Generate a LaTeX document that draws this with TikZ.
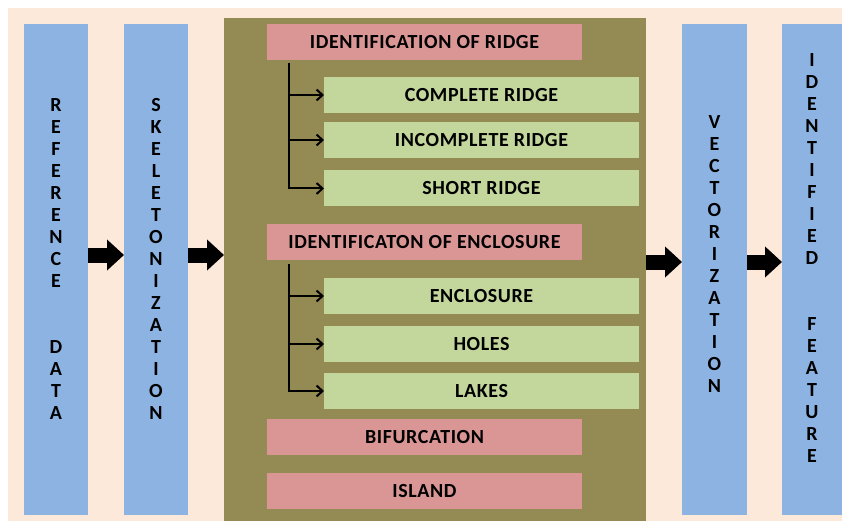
\documentclass[tikz,border=0pt]{standalone}
\usepackage{fontspec}
\setmainfont{Carlito}
\newfontfamily\boxfont[LetterSpace=3]{Carlito}
\usetikzlibrary{arrows.meta}
\definecolor{peach}{HTML}{FDE9D9}
\definecolor{stageblue}{HTML}{8DB3E2}
\definecolor{stageolive}{HTML}{948A54}
\definecolor{stagepink}{HTML}{D99694}
\definecolor{subgreen}{HTML}{C3D69B}

\begin{document}
\begin{tikzpicture}[x=1pt,y=-1pt,
	column/.style={fill=stageblue, minimum width=64pt, minimum height=491pt, inner sep=0pt, outer sep=0pt},
	vtext/.style={align=center, inner sep=0pt, font=\bfseries\fontsize{20}{22}\selectfont},
	stagebox/.style={fill=stagepink, minimum width=315pt, minimum height=36pt, inner sep=0pt, outer sep=0pt, font=\boxfont\bfseries\fontsize{20}{22}\selectfont},
	subbox/.style={stagebox, fill=subgreen},
	branch/.style={line width=2pt, -{Straight Barb[length=6pt,width=11pt]}},
	bigarrow/.style={line width=15pt, -{Triangle[length=17pt,width=30pt]}}]
	\useasboundingbox (0,0) rectangle (842,521);
	\fill[peach] (8,8) rectangle (842,521);

	% outer stages
	\node[column] (ref) at (56,269.5) {};
	\node[column] (skel) at (156,269.5) {};
	\node[fill=stageolive, minimum width=422pt, minimum height=503pt, inner sep=0pt, outer sep=0pt] (stage) at (435,269.5) {};
	\node[column, minimum width=65pt] (vect) at (714.5,269.5) {};
	\node[column, minimum width=60pt] (feat) at (812,269.5) {};

	\node[vtext] (refText) at (56,259.5) {R\\E\\F\\E\\R\\E\\N\\C\\E\\[44pt]D\\A\\T\\A};
	\node[vtext] (skelText) at (156,259) {S\\K\\E\\L\\E\\T\\O\\N\\I\\Z\\A\\T\\I\\O\\N};
	\node[vtext] (vectText) at (714.5,254) {V\\E\\C\\T\\O\\R\\I\\Z\\A\\T\\I\\O\\N};
	\node[vtext] (featText) at (812,258) {I\\D\\E\\N\\T\\I\\F\\I\\E\\D\\[44pt]F\\E\\A\\T\\U\\R\\E};

	% inner stages
	\node[stagebox] (ridge) at (424.5,42) {IDENTIFICATION OF RIDGE};
	\node[subbox] (complete) at (481.5,95) {COMPLETE RIDGE};
	\node[subbox] (incomplete) at (481.5,140) {INCOMPLETE RIDGE};
	\node[subbox] (short) at (481.5,188.5) {SHORT RIDGE};
	\node[stagebox] (encl) at (424.5,242) {IDENTIFICATON OF ENCLOSURE};
	\node[subbox] (enclosure) at (481.5,296) {ENCLOSURE};
	\node[subbox] (holes) at (481.5,344) {HOLES};
	\node[subbox] (lakes) at (481.5,391) {LAKES};
	\node[stagebox] (bifurcation) at (424.5,437) {BIFURCATION};
	\node[stagebox] (island) at (424.5,491) {ISLAND};

	\coordinate (ridgeStem) at (289,63);
	\draw[branch] (ridgeStem) |- (complete);
	\draw[branch] (ridgeStem) |- (incomplete);
	\draw[branch] (ridgeStem) |- (short);
	\coordinate (enclStem) at (289,264);
	\draw[branch] (enclStem) |- (enclosure);
	\draw[branch] (enclStem) |- (holes);
	\draw[branch] (enclStem) |- (lakes);

	% flow
	\draw[bigarrow] (ref.east |- 0,255) -- (skel.west |- 0,255);
	\draw[bigarrow] (skel.east |- 0,255) -- (stage.west |- 0,255);
	\draw[bigarrow] (stage.east |- 0,262) -- (vect.west |- 0,262);
	\draw[bigarrow] (vect.east |- 0,262) -- (feat.west |- 0,262);
\end{tikzpicture}
\end{document}
